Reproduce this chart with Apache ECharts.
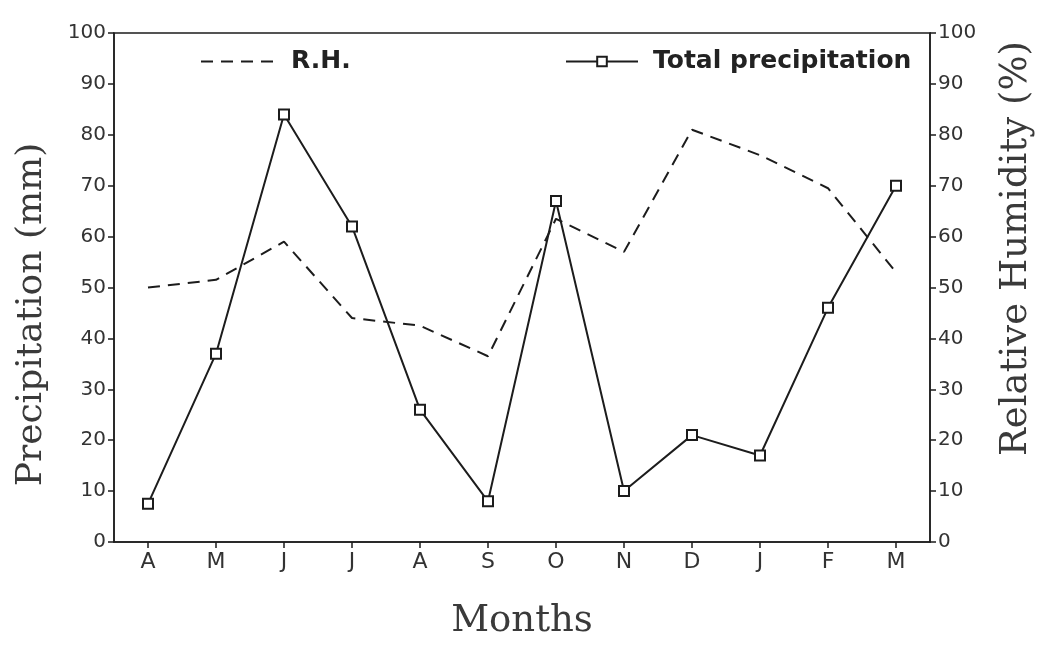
<!DOCTYPE html>
<html>
<head>
<meta charset="utf-8">
<script src="https://cdn.jsdelivr.net/npm/echarts@6/dist/echarts.min.js"></script>
<style>
  html, body { margin: 0; padding: 0; background: #fff; }
  #chart { width: 1043px; height: 645px; }
</style>
</head>
<body>
<div id="chart"></div>
<script>
// Monthly record, April through March
const months = ['A', 'M', 'J', 'J', 'A', 'S', 'O', 'N', 'D', 'J', 'F', 'M'];
// Total precipitation (mm), left axis
const precipitation = [7.5, 37, 84, 62, 26, 8, 67, 10, 21, 17, 46, 70];
// Relative humidity (%), right axis
const humidity = [50, 51.5, 59, 44, 42.5, 36.5, 63.5, 57, 81, 76, 69.5, 53];

const ink = '#1c1c1c';
const tickFont = { fontFamily: 'DejaVu Sans', fontSize: 20, color: '#333' };
const titleFont = { fontFamily: 'DejaVu Serif', color: '#3a3a3a' };
const legendFont = { fontFamily: 'DejaVu Sans', fontWeight: 'bold', fontSize: 25, color: '#222', padding: [0, 0, 0, 10] };

const chart = echarts.init(document.getElementById('chart'), null, { renderer: 'canvas' });

const yAxisBase = {
  type: 'value',
  min: 0,
  max: 100,
  interval: 10,
  splitLine: { show: false },
  axisLine: { show: true, lineStyle: { color: ink, width: 1.5 } },
  axisTick: { show: true, inside: false, length: 6, lineStyle: { color: ink, width: 1.5 } },
  axisLabel: Object.assign({ margin: 8 }, tickFont),
  nameLocation: 'middle'
};

chart.setOption({
  animation: false,
  backgroundColor: '#fff',
  grid: {
    left: 114, right: 108, top: 33, bottom: 102,
    show: true, borderColor: ink, borderWidth: 1.5
  },
  legend: [
    {
      data: ['R.H.'],
      left: 200, top: 49, padding: 0,
      itemWidth: 75, itemHeight: 12,
      itemStyle: { opacity: 0 },
      textStyle: legendFont
    },
    {
      data: ['Total precipitation'],
      left: 565, top: 49, padding: 0,
      itemWidth: 72, itemHeight: 12,
      textStyle: legendFont
    }
  ],
  xAxis: {
    type: 'category',
    data: months,
    boundaryGap: true,
    axisLine: { show: true, lineStyle: { color: ink, width: 1.5 } },
    axisTick: { show: true, alignWithLabel: true, length: 6, lineStyle: { color: ink, width: 1.5 } },
    axisLabel: { margin: 9, fontFamily: 'DejaVu Sans', fontSize: 22, color: '#333' },
    name: 'Months',
    nameLocation: 'middle',
    nameGap: 61,
    nameTextStyle: Object.assign({ verticalAlign: 'top', fontSize: 37 }, titleFont)
  },
  yAxis: [
    Object.assign({}, yAxisBase, {
      position: 'left',
      name: 'Precipitation (mm)',
      nameGap: 64,
      nameTextStyle: Object.assign({ fontSize: 36, padding: [0, 54, 0, 0] }, titleFont)
    }),
    Object.assign({}, yAxisBase, {
      position: 'right',
      name: 'Relative Humidity (%)',
      nameGap: 68,
      nameTextStyle: Object.assign({ fontSize: 37, padding: [0, 0, 0, 78] }, titleFont)
    })
  ],
  series: [
    {
      name: 'R.H.',
      type: 'line',
      yAxisIndex: 1,
      data: humidity,
      symbol: 'none',
      lineStyle: { color: ink, width: 2, type: [12, 8] },
      itemStyle: { color: ink },
      z: 2
    },
    {
      name: 'Total precipitation',
      type: 'line',
      yAxisIndex: 0,
      data: precipitation,
      symbol: 'emptyRect',
      symbolSize: 10,
      lineStyle: { color: ink, width: 2 },
      itemStyle: { color: ink, borderColor: ink, borderWidth: 1.8 },
      z: 3
    }
  ]
});
</script>
</body>
</html>
